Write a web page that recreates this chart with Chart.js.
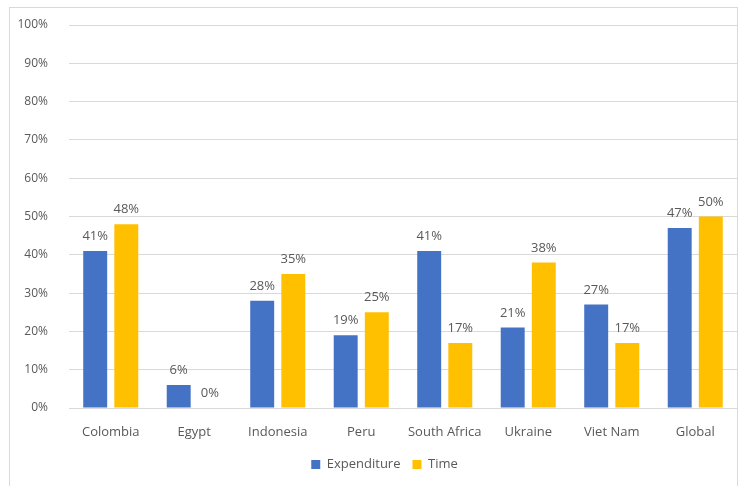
<!DOCTYPE html>
<html>
<head>
<meta charset="utf-8">
<script src="https://cdn.jsdelivr.net/npm/chart.js@4/dist/chart.umd.min.js"></script>
<style>
  html, body { margin: 0; padding: 0; background: #fff; }
  #box {
    position: absolute; left: 9px; top: 7px;
    width: 729px; height: 479px;
    border: 1px solid #d9d9d9; border-bottom: none;
    box-sizing: border-box;
  }
  canvas { display: block; }
</style>
</head>
<body>
<div id="box"><canvas id="chart"></canvas></div>
<script>
const countries = ['Colombia', 'Egypt', 'Indonesia', 'Peru', 'South Africa', 'Ukraine', 'Viet Nam', 'Global'];
const expenditure = [41, 6, 28, 19, 41, 21, 27, 47];
const time = [48, 0, 35, 25, 17, 38, 17, 50];
const yTicks = [0, 10, 20, 30, 40, 50, 60, 70, 80, 90, 100];

const textColor = '#595959';
const font = { family: "'Open Sans', sans-serif", size: 13 };

// value labels above each bar
const barLabels = {
  id: 'barLabels',
  afterDatasetsDraw(chart) {
    const c = chart.ctx;
    c.save();
    c.font = `${font.size}px ${font.family}`;
    c.fillStyle = textColor;
    c.textAlign = 'center';
    c.textBaseline = 'bottom';
    chart.data.datasets.forEach((ds, i) => {
      chart.getDatasetMeta(i).data.forEach((bar, j) => {
        c.fillText(ds.data[j] + '%', bar.x, bar.y - 8);
      });
    });
    c.restore();
  }
};

// nudge legend a bit to the right like the original
const legendShift = {
  id: 'legendShift',
  afterLayout(chart) {
    chart.legend.left += 11;
    chart.legend.right += 11;
  }
};

new Chart(document.getElementById('chart'), {
  type: 'bar',
  data: {
    labels: countries,
    datasets: [
      { label: 'Expenditure', data: expenditure, backgroundColor: '#4472C4' },
      { label: 'Time', data: time, backgroundColor: '#FFC000' }
    ]
  },
  options: {
    responsive: true,
    maintainAspectRatio: false,
    animation: false,
    layout: { padding: { top: 17, right: 0, left: 0, bottom: 5 } },
    datasets: { bar: { categoryPercentage: 0.745, barPercentage: 0.77 } },
    plugins: {
      legend: {
        position: 'bottom',
        labels: {
          color: textColor, font,
          boxWidth: 9, boxHeight: 9, padding: 12
        }
      },
      tooltip: { enabled: false }
    },
    scales: {
      x: {
        grid: { display: false },
        border: { color: '#d9d9d9' },
        ticks: { color: textColor, font, padding: 8 },
        afterFit: s => { s.height = 38; }
      },
      y: {
        min: 0, max: 100,
        afterBuildTicks: s => { s.ticks = yTicks.map(v => ({ value: v })); },
        grid: { color: '#d9d9d9', drawTicks: false },
        border: { display: false },
        ticks: { color: textColor, font: { ...font, size: 12 }, padding: 21, callback: v => v + '%' },
        afterFit: s => { s.width = 59; s.paddingTop = 0; s.paddingBottom = 0; }
      }
    }
  },
  plugins: [barLabels, legendShift]
});
</script>
</body>
</html>
